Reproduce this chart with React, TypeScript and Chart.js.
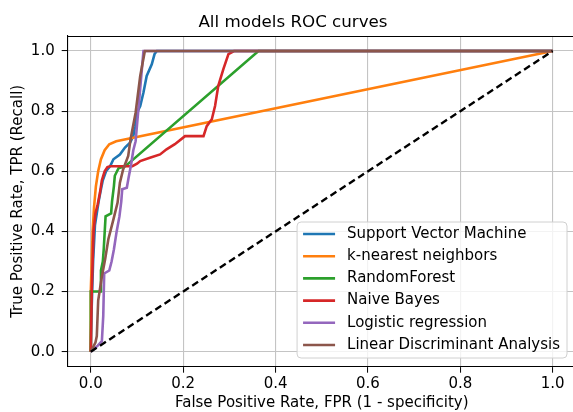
import React, { useEffect, useRef } from "react";
import { Chart, registerables } from "chart.js";

Chart.register(...registerables);

const TITLE = "All models ROC curves";
const X_LABEL = "False Positive Rate, FPR (1 - specificity)";
const Y_LABEL = "True Positive Rate, TPR (Recall)";
const TICKS = [0, 0.2, 0.4, 0.6, 0.8, 1.0];

const MODEL_NAMES = [
  "Support Vector Machine",
  "k-nearest neighbors",
  "RandomForest",
  "Naive Bayes",
  "Logistic regression",
  "Linear Discriminant Analysis",
];
const COLORS = ["#1f77b4", "#ff7f0e", "#2ca02c", "#d62728", "#9467bd", "#8c564b"];

const SVM_FPR = [0, 0.002, 0.005, 0.009, 0.013, 0.017, 0.022, 0.026, 0.033, 0.042, 0.049, 0.063, 0.074, 0.085, 0.092, 0.096, 0.1, 0.107, 0.114, 0.121, 0.132, 0.138, 0.143, 1];
const SVM_TPR = [0, 0.15, 0.3, 0.42, 0.46, 0.5, 0.54, 0.57, 0.6, 0.617, 0.64, 0.656, 0.679, 0.695, 0.717, 0.75, 0.795, 0.817, 0.862, 0.917, 0.956, 0.99, 1, 1];

const KNN_FPR = [0, 0, 0.002, 0.004, 0.007, 0.011, 0.016, 0.022, 0.03, 0.04, 0.055, 1];
const KNN_TPR = [0, 0.2, 0.3, 0.4, 0.48, 0.55, 0.6, 0.64, 0.67, 0.69, 0.7, 1];

const RF_FPR = [0, 0, 0.02, 0.022, 0.026, 0.028, 0.032, 0.044, 0.046, 0.05, 0.052, 0.06, 0.075, 0.363, 1];
const RF_TPR = [0, 0.2, 0.2, 0.27, 0.3, 0.34, 0.45, 0.46, 0.5, 0.55, 0.585, 0.61, 0.617, 1, 1];

const NB_FPR = [0, 0.002, 0.004, 0.006, 0.01, 0.015, 0.02, 0.024, 0.03, 0.036, 0.042, 0.09, 0.1, 0.107, 0.128, 0.15, 0.164, 0.182, 0.204, 0.244, 0.251, 0.262, 0.269, 0.276, 0.287, 0.298, 0.31, 1];
const NB_TPR = [0, 0.2, 0.3, 0.4, 0.46, 0.49, 0.53, 0.57, 0.6, 0.614, 0.617, 0.617, 0.625, 0.634, 0.645, 0.656, 0.673, 0.69, 0.717, 0.717, 0.75, 0.773, 0.817, 0.884, 0.94, 0.99, 1, 1];

const LR_FPR = [0, 0.015, 0.024, 0.027, 0.029, 0.04, 0.045, 0.05, 0.056, 0.062, 0.066, 0.068, 0.078, 0.082, 0.087, 0.092, 0.097, 0.114, 1];
const LR_TPR = [0, 0.02, 0.035, 0.12, 0.26, 0.27, 0.3, 0.34, 0.4, 0.45, 0.5, 0.54, 0.545, 0.58, 0.62, 0.67, 0.7, 1, 1];

const LDA_FPR = [0, 0.01, 0.013, 0.016, 0.024, 0.031, 0.038, 0.049, 0.058, 0.063, 0.07, 0.081, 0.086, 0.097, 0.107, 0.117, 1];
const LDA_TPR = [0, 0.03, 0.052, 0.17, 0.25, 0.307, 0.374, 0.44, 0.496, 0.562, 0.606, 0.651, 0.706, 0.795, 0.917, 1, 1];

const CHANCE_FPR = [0, 1];
const CHANCE_TPR = [0, 1];

const SERIES_FPR = [SVM_FPR, KNN_FPR, RF_FPR, NB_FPR, LR_FPR, LDA_FPR];
const SERIES_TPR = [SVM_TPR, KNN_TPR, RF_TPR, NB_TPR, LR_TPR, LDA_TPR];

const FONT = "DejaVu Sans";

const toPoints = (xs: number[], ys: number[]) => xs.map((x, i) => ({ x, y: ys[i] }));

const framePlugin = {
  id: "frame",
  afterDraw(chart: any) {
    const { ctx, chartArea } = chart;
    ctx.save();
    ctx.strokeStyle = "#000";
    ctx.lineWidth = 1;
    ctx.beginPath();
    ctx.moveTo(chartArea.left, chartArea.top + 0.5);
    ctx.lineTo(chartArea.right, chartArea.top + 0.5);
    ctx.moveTo(chartArea.right - 0.5, chartArea.top);
    ctx.lineTo(chartArea.right - 0.5, chartArea.bottom);
    ctx.stroke();
    ctx.restore();
  },
};

const titlePlugin = {
  id: "plotTitle",
  afterDraw(chart: any) {
    const { ctx } = chart;
    ctx.save();
    ctx.font = `16.7px "${FONT}"`;
    ctx.fillStyle = "#000";
    ctx.textAlign = "center";
    ctx.textBaseline = "alphabetic";
    ctx.fillText(TITLE, 293, 26.7);
    ctx.restore();
  },
};

const legendPlugin = {
  id: "boxLegend",
  afterDraw(chart: any) {
    const { ctx, chartArea } = chart;
    ctx.save();
    ctx.font = `15px "${FONT}"`;
    const maxW = Math.max(...MODEL_NAMES.map((n) => ctx.measureText(n).width));
    const rowH = 22.2;
    const right = chartArea.right - 8.8;
    const bottom = chartArea.bottom - 8.7;
    const w = 6 + 32 + 12 + maxW + 7;
    const h = 12 + rowH * (MODEL_NAMES.length - 1) + 13;
    const left = right - w;
    const top = bottom - h;
    const r = 4;
    ctx.beginPath();
    ctx.moveTo(left + r, top);
    ctx.lineTo(right - r, top);
    ctx.quadraticCurveTo(right, top, right, top + r);
    ctx.lineTo(right, bottom - r);
    ctx.quadraticCurveTo(right, bottom, right - r, bottom);
    ctx.lineTo(left + r, bottom);
    ctx.quadraticCurveTo(left, bottom, left, bottom - r);
    ctx.lineTo(left, top + r);
    ctx.quadraticCurveTo(left, top, left + r, top);
    ctx.closePath();
    ctx.fillStyle = "rgba(255,255,255,0.8)";
    ctx.fill();
    ctx.strokeStyle = "#d0d0d0";
    ctx.lineWidth = 1;
    ctx.stroke();
    MODEL_NAMES.forEach((name, i) => {
      const cy = top + 12 + i * rowH;
      ctx.strokeStyle = COLORS[i];
      ctx.lineWidth = 2.6;
      ctx.beginPath();
      ctx.moveTo(left + 6, cy);
      ctx.lineTo(left + 38, cy);
      ctx.stroke();
      ctx.fillStyle = "#000";
      ctx.textAlign = "left";
      ctx.textBaseline = "middle";
      ctx.fillText(name, left + 50, cy);
    });
    ctx.restore();
  },
};

export default function App() {
  const ref = useRef<HTMLCanvasElement>(null);

  useEffect(() => {
    if (!ref.current) return;
    const n = MODEL_NAMES.length;
    const datasets: any[] = MODEL_NAMES.map((name, i) => ({
      label: name,
      data: toPoints(SERIES_FPR[i], SERIES_TPR[i]),
      borderColor: COLORS[i],
      backgroundColor: COLORS[i],
      borderWidth: 2.6,
      pointRadius: 0,
      showLine: true,
      tension: 0,
      fill: false,
      order: n - i,
    }));
    datasets.push({
      label: "chance",
      data: toPoints(CHANCE_FPR, CHANCE_TPR),
      borderColor: "#000",
      borderWidth: 2.4,
      borderDash: [7, 4],
      pointRadius: 0,
      showLine: true,
      fill: false,
      order: 0,
    });

    const tickFont = { family: FONT, size: 15 };
    const chart = new Chart(ref.current, {
      type: "scatter",
      data: { datasets },
      plugins: [framePlugin, legendPlugin, titlePlugin],
      options: {
        animation: false,
        responsive: false,
        devicePixelRatio: 1,
        layout: { padding: { left: 0, top: 36, right: 2.2, bottom: 0 } },
        plugins: {
          legend: { display: false },
          title: { display: false },
          tooltip: { enabled: false },
        },
        scales: {
          x: {
            type: "linear",
            min: -0.05,
            max: 1.05,
            afterBuildTicks: (s: any) => {
              s.ticks = TICKS.map((v) => ({ value: v }));
            },
            afterFit: (s: any) => {
              s.height = 45.3;
            },
            ticks: {
              font: tickFont,
              color: "#000",
              padding: 2,
              maxRotation: 0,
              autoSkip: false,
              callback: (v: any) => Number(v).toFixed(1),
            },
            grid: { color: "#c4c4c4", lineWidth: 1.1, tickLength: 6, tickColor: "#000", tickWidth: 1 },
            border: { color: "#000", width: 1.1 },
            title: { display: true, text: X_LABEL, color: "#000", font: { family: FONT, size: 15 }, padding: { top: 0, bottom: 0 } },
          },
          y: {
            type: "linear",
            min: -0.05,
            max: 1.05,
            afterBuildTicks: (s: any) => {
              s.ticks = TICKS.map((v) => ({ value: v }));
            },
            afterFit: (s: any) => {
              s.width = 67.7;
            },
            ticks: {
              font: tickFont,
              color: "#000",
              padding: 7,
              autoSkip: false,
              callback: (v: any) => Number(v).toFixed(1),
            },
            grid: { color: "#c4c4c4", lineWidth: 1.1, tickLength: 6, tickColor: "#000", tickWidth: 1 },
            border: { color: "#000", width: 1.1 },
            title: { display: true, text: Y_LABEL, color: "#000", font: { family: FONT, size: 15 }, padding: { top: 9, bottom: 0 } },
          },
        },
      } as any,
    });
    return () => chart.destroy();
  }, []);

  return (
    <div style={{ position: "absolute", left: 0, top: 0, width: 573, height: 412, overflow: "hidden", background: "#fff" }}>
      <canvas ref={ref} width={578} height={412} style={{ width: 578, height: 412, display: "block" }} />
    </div>
  );
}
